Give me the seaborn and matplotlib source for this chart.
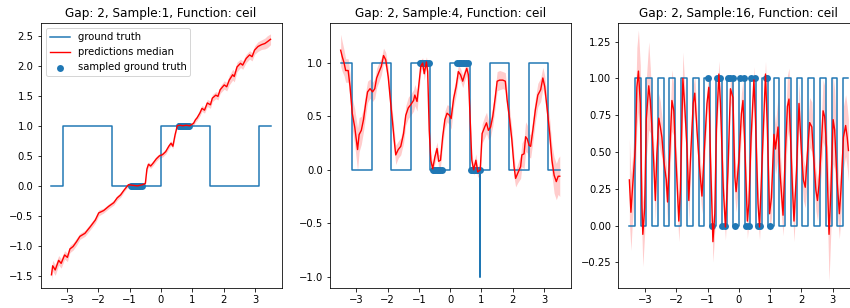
import numpy as np
import matplotlib
matplotlib.use("Agg")
import matplotlib.pyplot as plt
import seaborn as sns

# ---------------- data ----------------
titles = ["Gap: 2, Sample:1, Function: ceil",
          "Gap: 2, Sample:4, Function: ceil",
          "Gap: 2, Sample:16, Function: ceil"]

# ground truth step functions: edges and levels
gt1_edges = [-3.5, -3.14, -1.57, 0.0, 1.57, 3.14, 3.5]
gt1_levels = [0, 1, 0, 1, 0, 1]

gt2_edges = [-3.5, -3.14, -2.51, -1.88, -1.26, -0.63, 0.0, 0.63, 1.26, 1.88, 2.51, 3.14, 3.5]
gt2_levels = [1, 0, 1, 0, 1, 0, 1, 0, 1, 0, 1, 0]
gt2_spike_x = [0.94]
gt2_spike_y = [-1.0]

gt3_edges = [-3.5, -3.33, -3.14, -2.96, -2.77, -2.59, -2.40, -2.22, -2.03, -1.85, -1.66,
             -1.48, -1.29, -1.11, -0.92, -0.74, -0.55, -0.37, -0.18, 0.0, 0.18, 0.37,
             0.55, 0.74, 0.92, 1.11, 1.29, 1.48, 1.66, 1.85, 2.03, 2.22, 2.40, 2.59,
             2.77, 2.96, 3.14, 3.33, 3.5]
gt3_levels = [0, 1] * 19

# predictions median and band half-width
x1 = [-3.50, -3.46, -3.38, -3.27, -3.19, -3.08, -2.99, -2.91, -2.81, -2.70,
      -2.59, -2.43, -2.26, -2.10, -1.99, -1.83, -1.67, -1.51, -1.40, -1.29,
      -1.18, -1.04, -0.91, -0.75, -0.59, -0.50, -0.45, -0.40, -0.33, -0.25,
      -0.15, -0.05, 0.05, 0.15, 0.25, 0.32, 0.38, 0.45, 0.52, 0.60,
      0.70, 0.80, 0.91, 1.04, 1.10, 1.15, 1.24, 1.31, 1.39, 1.48,
      1.58, 1.64, 1.75, 1.82, 1.89, 2.02, 2.10, 2.18, 2.29, 2.34,
      2.43, 2.54, 2.61, 2.72, 2.83, 2.91, 2.99, 3.10, 3.21, 3.32,
      3.40, 3.50]
med1 = [-1.48, -1.33, -1.40, -1.24, -1.29, -1.15, -1.19, -1.05, -1.01, -0.93,
        -0.84, -0.79, -0.68, -0.57, -0.45, -0.41, -0.34, -0.28, -0.20, -0.15,
        -0.07, 0.02, 0.01, 0.00, 0.02, 0.04, 0.28, 0.36, 0.33, 0.38,
        0.45, 0.50, 0.52, 0.57, 0.66, 0.71, 0.66, 0.85, 1.00, 1.01,
        1.00, 1.01, 1.00, 1.04, 1.10, 1.13, 1.21, 1.29, 1.26, 1.38,
        1.35, 1.46, 1.51, 1.49, 1.60, 1.68, 1.65, 1.76, 1.85, 1.82,
        1.98, 2.04, 2.01, 2.12, 2.18, 2.15, 2.26, 2.32, 2.35, 2.37,
        2.40, 2.44]
band1 = [0.09, 0.09, 0.09, 0.08, 0.08, 0.07, 0.07, 0.06, 0.06, 0.06,
         0.05, 0.05, 0.05, 0.05, 0.05, 0.04, 0.04, 0.04, 0.04, 0.04,
         0.03, 0.03, 0.03, 0.03, 0.03, 0.03, 0.04, 0.04, 0.04, 0.04,
         0.04, 0.04, 0.04, 0.04, 0.04, 0.04, 0.04, 0.04, 0.03, 0.03,
         0.03, 0.03, 0.03, 0.04, 0.04, 0.04, 0.05, 0.05, 0.05, 0.06,
         0.06, 0.06, 0.06, 0.06, 0.06, 0.07, 0.07, 0.08, 0.09, 0.09,
         0.08, 0.07, 0.07, 0.07, 0.07, 0.07, 0.07, 0.08, 0.08, 0.09,
         0.10, 0.09]

x2 = [-3.50, -3.45, -3.39, -3.34, -3.26, -3.20, -3.13, -3.05, -2.96, -2.91,
      -2.84, -2.77, -2.70, -2.64, -2.56, -2.48, -2.41, -2.35, -2.27, -2.20,
      -2.13, -2.06, -1.98, -1.92, -1.84, -1.79, -1.74, -1.66, -1.58, -1.49,
      -1.42, -1.34, -1.26, -1.17, -1.13, -1.06, -0.99, -0.94, -0.88, -0.83,
      -0.76, -0.72, -0.67, -0.62, -0.56, -0.49, -0.42, -0.37, -0.31, -0.24,
      -0.17, -0.10, -0.02, 0.03, 0.11, 0.19, 0.26, 0.33, 0.40, 0.47,
      0.53, 0.58, 0.63, 0.69, 0.75, 0.82, 0.88, 0.96, 1.02, 1.10,
      1.16, 1.22, 1.29, 1.36, 1.44, 1.50, 1.58, 1.68, 1.76, 1.82,
      1.90, 1.97, 2.04, 2.09, 2.16, 2.25, 2.29, 2.36, 2.41, 2.46,
      2.52, 2.57, 2.64, 2.72, 2.80, 2.89, 2.96, 3.02, 3.09, 3.18,
      3.25, 3.32, 3.39, 3.45, 3.50]
med2 = [1.12, 1.06, 1.00, 0.93, 0.93, 0.78, 0.53, 0.40, 0.19, 0.33,
        0.37, 0.47, 0.62, 0.73, 0.76, 0.73, 0.76, 0.86, 0.92, 0.97,
        1.07, 1.03, 0.87, 0.68, 0.44, 0.28, 0.14, 0.19, 0.22, 0.34,
        0.51, 0.58, 0.61, 0.65, 0.70, 0.64, 0.83, 0.97, 1.00, 0.90,
        1.01, 0.92, 0.37, 0.09, 0.01, 0.12, 0.20, 0.08, 0.09, 0.31,
        0.47, 0.53, 0.51, 0.48, 0.67, 0.78, 0.92, 0.89, 0.83, 0.90,
        0.95, 0.89, 0.53, 0.09, 0.00, 0.09, -0.02, 0.00, 0.34, 0.40,
        0.44, 0.37, 0.40, 0.50, 0.68, 0.83, 0.84, 0.84, 0.83, 0.65,
        0.47, 0.28, 0.03, -0.08, -0.03, 0.03, 0.14, 0.15, 0.31, 0.29,
        0.23, 0.22, 0.37, 0.56, 0.70, 0.75, 0.86, 0.78, 0.59, 0.34,
        0.09, -0.05, -0.11, -0.06, -0.06]
band2 = [0.15, 0.14, 0.12, 0.11, 0.11, 0.12, 0.14, 0.17, 0.20, 0.16,
         0.13, 0.11, 0.11, 0.10, 0.09, 0.09, 0.09, 0.09, 0.09, 0.08,
         0.07, 0.07, 0.08, 0.09, 0.09, 0.09, 0.09, 0.08, 0.08, 0.09,
         0.09, 0.10, 0.10, 0.10, 0.10, 0.09, 0.07, 0.06, 0.05, 0.06,
         0.05, 0.06, 0.07, 0.06, 0.05, 0.06, 0.06, 0.06, 0.06, 0.08,
         0.08, 0.08, 0.09, 0.10, 0.08, 0.08, 0.06, 0.06, 0.06, 0.06,
         0.06, 0.07, 0.07, 0.06, 0.05, 0.06, 0.05, 0.05, 0.09, 0.10,
         0.10, 0.09, 0.09, 0.09, 0.09, 0.09, 0.09, 0.08, 0.08, 0.09,
         0.10, 0.10, 0.10, 0.08, 0.09, 0.11, 0.11, 0.14, 0.14, 0.13,
         0.11, 0.11, 0.11, 0.11, 0.11, 0.11, 0.10, 0.10, 0.11, 0.13,
         0.14, 0.17, 0.17, 0.17, 0.19]

x3 = [-3.50, -3.45, -3.41, -3.31, -3.26, -3.21, -3.15, -3.10, -3.07, -3.01,
      -2.96, -2.88, -2.83, -2.78, -2.72, -2.67, -2.62, -2.56, -2.51, -2.46,
      -2.40, -2.32, -2.28, -2.21, -2.14, -2.08, -2.03, -1.98, -1.92, -1.87,
      -1.79, -1.73, -1.66, -1.60, -1.55, -1.46, -1.41, -1.34, -1.26, -1.18,
      -1.10, -1.02, -0.96, -0.91, -0.83, -0.77, -0.72, -0.64, -0.59, -0.50,
      -0.43, -0.35, -0.27, -0.19, -0.13, -0.09, 0.00, 0.08, 0.13, 0.19,
      0.27, 0.32, 0.39, 0.48, 0.53, 0.61, 0.66, 0.75, 0.85, 0.91,
      0.98, 1.04, 1.12, 1.17, 1.25, 1.31, 1.41, 1.47, 1.55, 1.60,
      1.65, 1.71, 1.76, 1.84, 1.92, 2.00, 2.06, 2.12, 2.19, 2.26,
      2.33, 2.38, 2.46, 2.51, 2.56, 2.62, 2.69, 2.74, 2.80, 2.85,
      2.88, 2.94, 3.01, 3.06, 3.13, 3.21, 3.26, 3.34, 3.41, 3.46,
      3.50]
med3 = [0.31, 0.09, 0.22, 0.53, 0.94, 1.05, 0.83, 0.15, -0.06, 0.12,
        0.72, 0.95, 0.85, 0.67, 0.42, 0.17, 0.49, 0.73, 0.67, 0.60,
        0.44, 0.31, 0.16, 0.49, 0.85, 0.78, 0.53, 0.31, 0.03, 0.24,
        1.00, 0.81, 0.53, 0.17, 0.44, 0.83, 0.90, 0.65, 0.40, 0.20,
        0.53, 0.83, 0.94, 0.47, -0.11, 0.08, 0.65, 1.03, 0.83, 0.26,
        -0.01, 0.37, 0.93, 0.87, 0.33, 0.23, 0.44, 0.76, 0.85, 0.53,
        0.03, 0.15, 0.60, 0.99, 0.72, 0.15, -0.01, 0.49, 1.03, 0.65,
        0.08, 0.19, 0.62, 0.52, 0.67, 0.37, 0.07, 0.42, 0.81, 0.86,
        0.60, 0.26, 0.03, 0.37, 0.83, 0.49, 0.31, 0.26, 0.49, 0.70,
        0.67, 0.49, 0.24, 0.17, 0.28, 0.49, 0.78, 0.74, 0.53, 0.15,
        -0.06, 0.24, 0.72, 0.65, 0.33, 0.08, 0.24, 0.60, 0.68, 0.60,
        0.51]
band3 = [0.28, 0.26, 0.22, 0.22, 0.27, 0.28, 0.26, 0.20, 0.22, 0.17,
         0.27, 0.30, 0.22, 0.17, 0.14, 0.14, 0.14, 0.17, 0.17, 0.14,
         0.12, 0.12, 0.14, 0.17, 0.21, 0.17, 0.14, 0.14, 0.14, 0.14,
         0.18, 0.14, 0.12, 0.14, 0.12, 0.12, 0.12, 0.12, 0.12, 0.12,
         0.12, 0.09, 0.09, 0.09, 0.14, 0.12, 0.12, 0.09, 0.09, 0.12,
         0.09, 0.12, 0.09, 0.12, 0.14, 0.14, 0.14, 0.14, 0.14, 0.14,
         0.12, 0.12, 0.12, 0.09, 0.12, 0.12, 0.09, 0.12, 0.09, 0.12,
         0.12, 0.14, 0.17, 0.17, 0.21, 0.17, 0.14, 0.17, 0.21, 0.21,
         0.17, 0.14, 0.14, 0.14, 0.14, 0.14, 0.14, 0.14, 0.17, 0.17,
         0.17, 0.14, 0.14, 0.14, 0.14, 0.17, 0.21, 0.21, 0.21, 0.27,
         0.32, 0.27, 0.30, 0.27, 0.21, 0.17, 0.17, 0.21, 0.21, 0.21,
         0.21]

# sampled ground truth points
s1_x = [-0.96, -0.93, -0.90, -0.87, -0.84, -0.81, -0.78, -0.75, -0.72, -0.69, -0.66, -0.62,
        0.56, 0.59, 0.62, 0.65, 0.68, 0.71, 0.74, 0.77, 0.80, 0.83, 0.86, 0.89]
s1_y = [0] * 12 + [1] * 12
s2_x = [-0.97, -0.93, -0.89, -0.85, -0.81, -0.77, -0.73, -0.69,
        -0.55, -0.51, -0.47, -0.43, -0.39, -0.35, -0.31, -0.26,
        0.23, 0.27, 0.32, 0.36, 0.41, 0.45, 0.50, 0.56,
        0.66, 0.70, 0.74, 0.78, 0.82, 0.86, 0.90, 0.95]
s2_y = [1] * 8 + [0] * 8 + [1] * 8 + [0] * 8
s3_x = [-0.98, -0.70, -0.60, -0.35, -0.27, -0.20, 0.03, 0.15, 0.40, 0.50, 0.85, 0.90,
        -0.85, -0.54, -0.45, -0.12, 0.22, 0.33, 0.62, 0.69, 0.98]
s3_y = [1] * 12 + [0] * 9

ylims = [(-1.705, 2.706), (-1.109, 1.372), (-0.427, 1.375)]


def step_vertices(edges, levels, spike_x=(), spike_y=()):
    xs, ys = [], []
    for i, lv in enumerate(levels):
        a, b = edges[i], edges[i + 1]
        xs.append(a); ys.append(lv)
        for sx, sy in zip(spike_x, spike_y):
            if a < sx < b:
                xs += [sx, sx, sx]; ys += [lv, sy, lv]
        xs.append(b); ys.append(lv)
    return np.array(xs), np.array(ys)


panels = [
    (step_vertices(gt1_edges, gt1_levels), x1, med1, band1, s1_x, s1_y),
    (step_vertices(gt2_edges, gt2_levels, gt2_spike_x, gt2_spike_y), x2, med2, band2, s2_x, s2_y),
    (step_vertices(gt3_edges, gt3_levels), x3, med3, band3, s3_x, s3_y),
]

W, H, DPI = 850, 308, 72
fig = plt.figure(figsize=(W / DPI, H / DPI), dpi=DPI)
lefts = [40.5, 329.7, 618.4]
ax_w = 241.0
ax_top, ax_bot = 23.3, 288.3

blue = "#1f77b4"
for i, ((gx, gy), xm, med, band, sx, sy) in enumerate(panels):
    ax = fig.add_axes([lefts[i] / W, 1 - ax_bot / H, ax_w / W, (ax_bot - ax_top) / H])
    first = (i == 0)
    sns.lineplot(x=gx, y=gy, ax=ax, color=blue, lw=1.5, estimator=None, sort=False,
                 label="ground truth" if first else None)
    xm = np.array(xm); med = np.array(med); band = np.array(band)
    ax.fill_between(xm, med - band, med + band, color="red", alpha=0.2, lw=0)
    sns.lineplot(x=xm, y=med, ax=ax, color="red", lw=1.4, estimator=None, sort=False,
                 label="predictions median" if first else None)
    sns.scatterplot(x=np.array(sx), y=np.array(sy), ax=ax, color=blue, s=48, linewidth=0,
                    label="sampled ground truth" if first else None)
    ax.set_xlim(-3.85, 3.85)
    ax.set_ylim(*ylims[i])
    ax.set_xticks([-3, -2, -1, 0, 1, 2, 3])
    ax.set_title(titles[i])
    ax.set_xlabel("")
    ax.set_ylabel("")
    if first:
        ax.legend(loc="upper left")
    else:
        leg = ax.get_legend()
        if leg is not None:
            leg.remove()

fig.savefig("out.png", dpi=DPI)
